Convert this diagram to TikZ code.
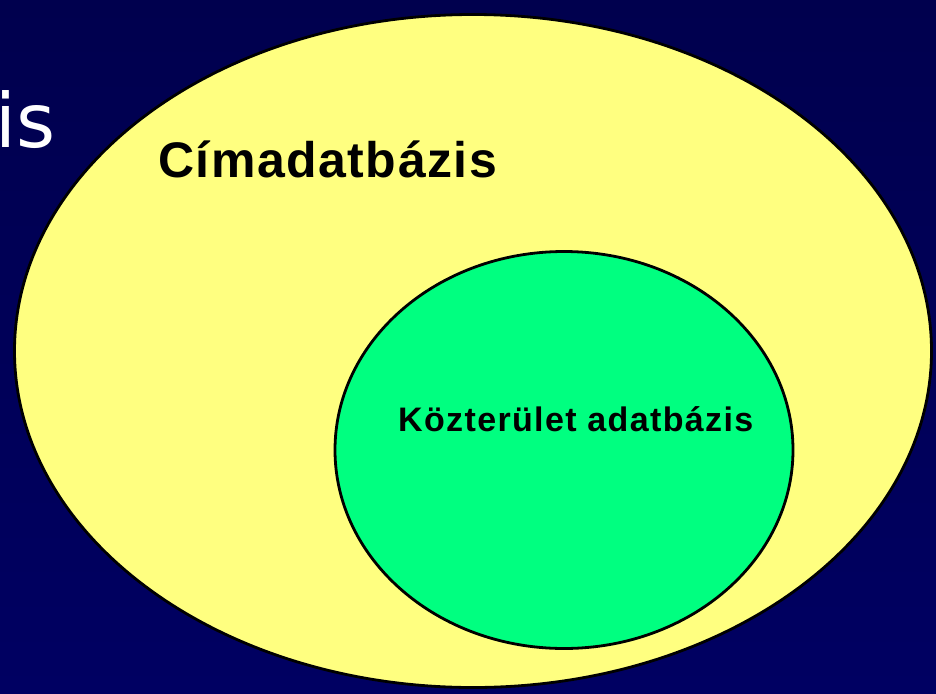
\documentclass[tikz,border=0pt]{standalone}
\usepackage{fontspec}
\setmainfont{Liberation Sans}
\newfontfamily\titlefont{DejaVu Sans}
\newfontfamily\outerfont[LetterSpace=3]{Liberation Sans Bold}
\newfontfamily\innerfont[LetterSpace=4]{Liberation Sans Bold}
\usepackage{tikz}
\usetikzlibrary{shapes.geometric}
\definecolor{navybg}{HTML}{00004E}
\definecolor{navylow}{HTML}{000062}
\definecolor{paleyellow}{HTML}{FFFF80}
\definecolor{springgreen}{HTML}{00FF80}

\begin{document}
\begin{tikzpicture}[x=1pt,y=-1pt,
set/.style={draw=black,line width=2.8pt,ellipse,inner sep=0pt},
setlabel/.style={text=black,inner sep=0pt,anchor=base west}]
\useasboundingbox (0,0) rectangle (936,693);
\shade[top color=navybg,bottom color=navylow] (0,0) rectangle (936,693);
\clip (0,0) rectangle (936,693);
\node[text=white,inner sep=0pt,anchor=base east,font=\titlefont\fontsize{75}{80}\selectfont] (title) at (56,147) {is};
\node[set,fill=paleyellow,minimum width=917pt,minimum height=673pt] (cim) at (473,351) {};
\node[set,fill=springgreen,minimum width=458pt,minimum height=397pt] (kozt) at (564,450) {};
\node[setlabel,font=\outerfont\fontsize{50}{60}\selectfont] (cimlabel) at (158,177) {Címadatbázis};
\node[setlabel,font=\innerfont\fontsize{34}{40}\selectfont] (koztlabel) at (398,431) {Közterület adatbázis};
\end{tikzpicture}
\end{document}
